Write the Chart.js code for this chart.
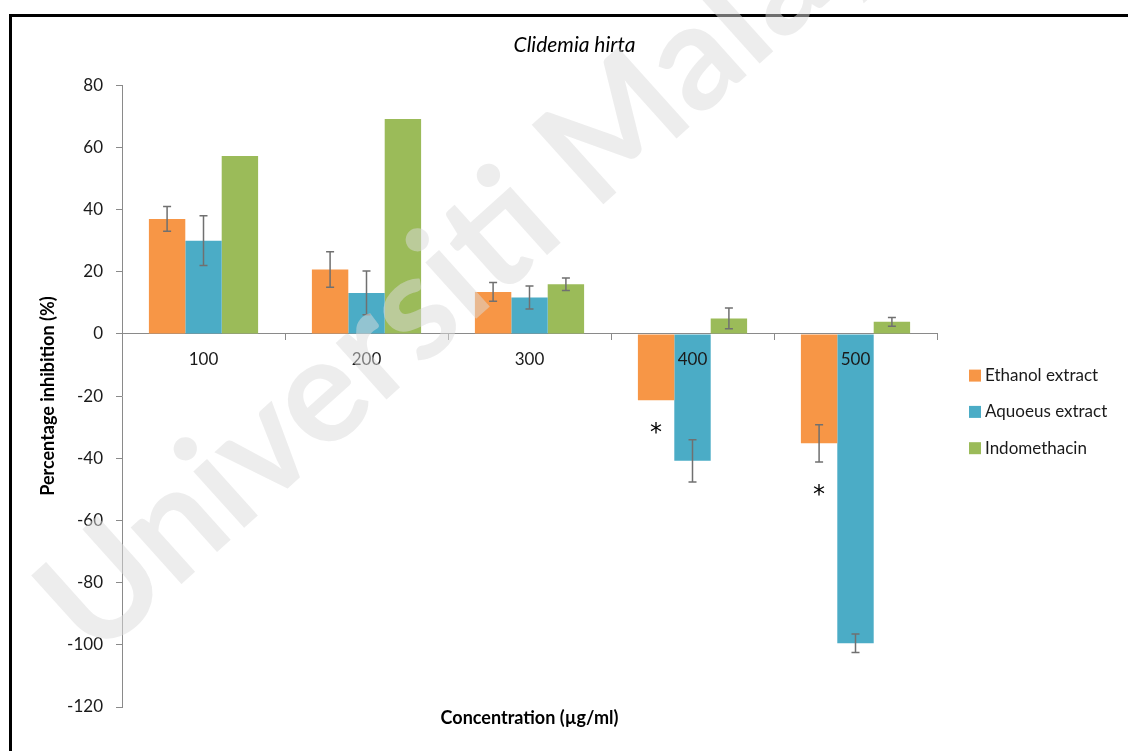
<!DOCTYPE html>
<html>
<head>
<meta charset="utf-8">
<title>Clidemia hirta</title>
<script src="https://cdn.jsdelivr.net/npm/chart.js@4.4.1/dist/chart.umd.min.js"></script>
<style>
    html, body { margin: 0; padding: 0; background: #fff; }
    #wrap { position: relative; width: 1128px; height: 751px; overflow: hidden; }
    #inhibitionChart { position: absolute; left: 0; top: 0; }
    #frame {
        position: absolute; left: 9px; top: 14px; width: 1200px; height: 800px;
        border-top: 3px solid #000; border-left: 3px solid #000; pointer-events: none;
    }
    #mark { position: absolute; left: 0; top: 0; pointer-events: none; }
</style>
</head>
<body>
<div id="wrap">
    <canvas id="inhibitionChart" width="1128" height="751"></canvas>
    <div id="frame"></div>
    <svg id="mark" width="1128" height="751">
        <text x="95" y="662" transform="rotate(-42 95 662)" font-family="Lato, sans-serif"
              font-weight="bold" font-size="148" fill="#dcdcdc" fill-opacity="0.5">Universiti Malaya</text>
    </svg>
</div>
<script>
const concentrations = ['100', '200', '300', '400', '500'];

const ethanolValues = [37, 20.7, 13.5, -21.3, -35.2];
const ethanolErrors = [4, 5.7, 3, 0, 6];

const aqueousValues = [30, 13.2, 11.7, -40.8, -99.5];
const aqueousErrors = [8, 7, 3.7, 6.8, 3];

const indomethacinValues = [57.2, 69.1, 16, 5, 3.9];
const indomethacinErrors = [0, 0, 2, 3.3, 1.4];

// significance marks under the ethanol bars
const ethanolMarks = ['', '', '', '*', '*'];

const FONT = 'Lato, "Open Sans", sans-serif';
const TEXT = '#1a1a1a';
const AXIS = '#8a8a8a';

// error bars + asterisks, drawn on top of the bars
const errorBarPlugin = {
    id: 'errorBars',
    afterDatasetsDraw(chart) {
        const ctx = chart.ctx;
        const yScale = chart.scales.y;
        ctx.save();
        chart.data.datasets.forEach((ds, di) => {
            const meta = chart.getDatasetMeta(di);
            meta.data.forEach((bar, i) => {
                const v = ds.data[i];
                const e = ds.errors[i];
                if (e > 0) {
                    const yHi = yScale.getPixelForValue(v + e);
                    const yLo = yScale.getPixelForValue(v - e);
                    ctx.strokeStyle = '#707070';
                    ctx.lineWidth = 1.5;
                    ctx.beginPath();
                    ctx.moveTo(bar.x, yHi);
                    ctx.lineTo(bar.x, yLo);
                    ctx.moveTo(bar.x - 4, yHi);
                    ctx.lineTo(bar.x + 4, yHi);
                    ctx.moveTo(bar.x - 4, yLo);
                    ctx.lineTo(bar.x + 4, yLo);
                    ctx.stroke();
                }
                if (ds.marks && ds.marks[i]) {
                    const end = v < 0 ? yScale.getPixelForValue(v - e) + 34 : yScale.getPixelForValue(v + e) - 14;
                    ctx.fillStyle = '#000';
                    ctx.font = '24px "DejaVu Sans", sans-serif';
                    ctx.textAlign = 'center';
                    ctx.textBaseline = 'middle';
                    ctx.fillText(ds.marks[i], bar.x, end);
                }
            });
        });
        ctx.restore();
    }
};

// legend to the right of the plot
const sideLegendPlugin = {
    id: 'sideLegend',
    afterDraw(chart) {
        const ctx = chart.ctx;
        const area = chart.chartArea;
        const x = area.right + 32;
        let y = (area.top + area.bottom) / 2 - 20.5;
        ctx.save();
        ctx.font = '17px ' + FONT;
        ctx.textBaseline = 'middle';
        ctx.textAlign = 'left';
        chart.data.datasets.forEach(ds => {
            ctx.fillStyle = ds.backgroundColor;
            ctx.fillRect(x, y - 6, 12, 12);
            ctx.fillStyle = TEXT;
            ctx.fillText(ds.label, x + 16, y);
            y += 36.3;
        });
        ctx.restore();
    }
};

const ctx = document.getElementById('inhibitionChart').getContext('2d');

new Chart(ctx, {
    type: 'bar',
    data: {
        labels: concentrations,
        datasets: [
            {
                label: 'Ethanol extract',
                data: ethanolValues,
                errors: ethanolErrors,
                marks: ethanolMarks,
                backgroundColor: '#F79646',
                borderWidth: 0
            },
            {
                label: 'Aquoeus extract',
                data: aqueousValues,
                errors: aqueousErrors,
                backgroundColor: '#4BACC6',
                borderWidth: 0
            },
            {
                label: 'Indomethacin',
                data: indomethacinValues,
                errors: indomethacinErrors,
                backgroundColor: '#9BBB59',
                borderWidth: 0
            }
        ]
    },
    options: {
        responsive: false,
        animation: false,
        devicePixelRatio: 1,
        categoryPercentage: 0.67,
        barPercentage: 1.0,
        layout: {
            padding: { top: 18, left: 21, right: 0, bottom: 0 }
        },
        plugins: {
            legend: { display: false },
            tooltip: { enabled: false },
            title: {
                display: true,
                text: 'Clidemia hirta',
                color: '#000',
                font: { family: FONT, size: 21, style: 'italic', weight: 'normal' },
                padding: { top: 15, bottom: 27 }
            }
        },
        scales: {
            x: {
                type: 'category',
                position: { y: 0 },
                offset: true,
                grid: {
                    display: true,
                    drawOnChartArea: false,
                    drawTicks: true,
                    tickLength: 6,
                    color: AXIS,
                    offset: true
                },
                border: { display: true, color: AXIS, width: 1 },
                ticks: {
                    color: TEXT,
                    padding: 9,
                    z: 1,
                    font: { family: FONT, size: 17 }
                }
            },
            x2: {
                type: 'category',
                position: 'bottom',
                grid: { display: false, drawTicks: false },
                border: { display: false },
                ticks: { display: false },
                title: {
                    display: true,
                    text: 'Concentration (µg/ml)',
                    color: '#000',
                    font: { family: FONT, size: 18, weight: 'bold' },
                    padding: { top: 1, bottom: 22 }
                },
                afterFit(scale) { scale.height = 44; }
            },
            y: {
                min: -120,
                max: 80,
                ticks: {
                    stepSize: 20,
                    color: TEXT,
                    padding: 13,
                    font: { family: FONT, size: 17 }
                },
                grid: {
                    display: true,
                    drawOnChartArea: false,
                    drawTicks: true,
                    tickLength: 6,
                    color: AXIS
                },
                border: { display: true, color: AXIS, width: 1 },
                title: {
                    display: true,
                    text: 'Percentage inhibition (%)',
                    color: '#000',
                    font: { family: FONT, size: 18, weight: 'bold' },
                    padding: { top: 16, bottom: 0 }
                },
                afterFit(scale) { scale.width = 101; }
            },
            y2: {
                type: 'linear',
                position: 'right',
                grid: { display: false, drawTicks: false },
                border: { display: false },
                ticks: { display: false },
                afterFit(scale) { scale.width = 191; }
            }
        }
    },
    plugins: [errorBarPlugin, sideLegendPlugin]
});
</script>
</body>
</html>
